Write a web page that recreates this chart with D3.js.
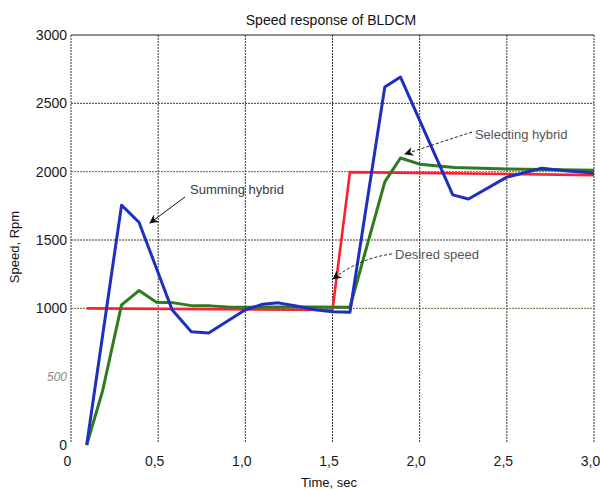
<!DOCTYPE html>
<html>
<head>
<meta charset="utf-8">
<script src="https://cdn.jsdelivr.net/npm/d3@7"></script>
<style>
  body { margin: 0; background: #fff; }
  svg { font-family: Arial, "Liberation Sans", sans-serif; }
</style>
</head>
<body>
<svg id="chart" width="600" height="490"></svg>
<script>
// values: time in sec, speed in rpm
const summingTime = [0.09, 0.29, 0.39, 0.58, 0.69, 0.79, 1.0, 1.1, 1.19, 1.3, 1.4, 1.5, 1.6, 1.8, 1.89, 2.19, 2.28, 2.5, 2.7, 2.85, 3.0]
const summingSpeed = [0, 1755, 1630, 990, 828, 820, 990, 1030, 1040, 1015, 990, 975, 972, 2620, 2692, 1830, 1800, 1960, 2025, 2005, 1990]

const selectingTime = [0.09, 0.18, 0.29, 0.39, 0.49, 0.59, 0.7, 0.8, 0.9, 1.0, 1.2, 1.4, 1.6, 1.8, 1.89, 2.0, 2.2, 2.5, 3.0]
const selectingSpeed = [0, 390, 1025, 1130, 1045, 1040, 1018, 1018, 1010, 1008, 1010, 1010, 1008, 1925, 2100, 2055, 2030, 2020, 2010]

const desiredTime = [0.09, 1.5, 1.6, 3.0]
const desiredSpeed = [1000, 988, 1997, 1975]

const xTicks = [0, 0.5, 1, 1.5, 2, 2.5, 3]
const yTicks = [0, 500, 1000, 1500, 2000, 2500, 3000]
const yGrid = [1000, 1500, 2000, 2500]

const svg = d3.select('#chart')
const W = 600, H = 490
const margin = { top: 35, right: 6, bottom: 45, left: 71 }

const x = d3.scaleLinear().domain([0, 3]).range([margin.left, W - margin.right])
const y = d3.scaleLinear().domain([0, 3000]).range([H - margin.bottom, margin.top])

// arrow heads
const defs = svg.append('defs')
defs.append('marker')
    .attr('id', 'head')
    .attr('viewBox', '0 0 10 10')
    .attr('refX', 9).attr('refY', 5)
    .attr('markerWidth', 11).attr('markerHeight', 9)
    .attr('markerUnits', 'userSpaceOnUse')
    .attr('orient', 'auto')
    .append('path')
    .attr('d', 'M0,0 L10,5 L0,10 L3,5 Z')
    .attr('fill', '#111')

// grid
const grid = svg.append('g')
grid.selectAll('.vgrid')
    .data(xTicks)
    .join('line')
    .attr('class', 'vgrid')
    .attr('x1', d => x(d)).attr('x2', d => x(d))
    .attr('y1', y(3000)).attr('y2', y(0) - 3)
    .attr('stroke', '#333')
    .attr('stroke-width', 1)
    .attr('stroke-dasharray', '2,1')

grid.selectAll('.hgrid')
    .data(yGrid)
    .join('line')
    .attr('class', 'hgrid')
    .attr('x1', x(0)).attr('x2', x(3))
    .attr('y1', d => y(d)).attr('y2', d => y(d))
    .attr('stroke', d => d === 2500 || d === 1500 ? '#3a3a3a' : '#6a6a3a')
    .attr('stroke-width', 1)
    .attr('stroke-dasharray', '2,1')

// top border is solid
grid.append('line')
    .attr('x1', x(0)).attr('x2', x(3))
    .attr('y1', y(3000)).attr('y2', y(3000))
    .attr('stroke', '#222')
    .attr('stroke-width', 1.2)

// axes (labels only)
const fmt = d => d === 0 ? '0' : d3.format('.1f')(d).replace('.', ',')
const xAxis = svg.append('g')
    .attr('transform', `translate(0,${y(0)})`)
    .call(d3.axisBottom(x).tickValues(xTicks).tickFormat(fmt).tickSize(0).tickPadding(11))
xAxis.select('.domain').remove()
xAxis.selectAll('text')
    .attr('dx', -4)
    .attr('font-size', 14)
    .attr('font-family', 'Arial, "Liberation Sans", sans-serif')
    .attr('fill', '#1a1a1a')

const yAxis = svg.append('g')
    .attr('transform', `translate(${x(0)},0)`)
    .call(d3.axisLeft(y).tickValues(yTicks).tickFormat(d3.format('d')).tickSize(0).tickPadding(4))
yAxis.select('.domain').remove()
yAxis.selectAll('text')
    .attr('font-family', 'Arial, "Liberation Sans", sans-serif')
    .attr('fill', d => d === 500 ? '#8a8a8a' : '#1a1a1a')
    .attr('font-style', d => d === 500 ? 'italic' : null)
    .attr('font-size', d => d === 500 ? 12 : 14)

// series
const line = d3.line().x(d => x(d[0])).y(d => y(d[1]))
const series = [
    { t: desiredTime, v: desiredSpeed, color: '#ff1f2f', w: 2.6 },
    { t: selectingTime, v: selectingSpeed, color: '#2e7a1e', w: 3 },
    { t: summingTime, v: summingSpeed, color: '#1f2fbf', w: 3 }
]
svg.append('g')
    .selectAll('path')
    .data(series)
    .join('path')
    .attr('fill', 'none')
    .attr('stroke', d => d.color)
    .attr('stroke-width', d => d.w)
    .attr('stroke-linejoin', 'round')
    .attr('d', d => line(d.t.map((t, i) => [t, d.v[i]])))

// annotations
const note = svg.append('g')
    .attr('font-size', 13)
    .attr('fill', '#3a3a3a')

note.append('text').attr('x', x(0.683)).attr('y', y(1837)).text('Summing hybrid')
note.append('line')
    .attr('x1', x(0.654)).attr('y1', y(1815))
    .attr('x2', x(0.453)).attr('y2', y(1624))
    .attr('stroke', '#111').attr('stroke-width', 1)
    .attr('marker-end', 'url(#head)')

note.append('text').attr('x', x(2.317)).attr('y', y(2239)).attr('fill', '#555').text('Selecting hybrid')
note.append('line')
    .attr('x1', x(2.30)).attr('y1', y(2290))
    .attr('x2', x(1.916)).attr('y2', y(2129))
    .attr('stroke', '#222').attr('stroke-width', 1)
    .attr('stroke-dasharray', '3,2')
    .attr('marker-end', 'url(#head)')

note.append('text').attr('x', x(1.859)).attr('y', y(1361)).attr('fill', '#555').text('Desired speed')
note.append('path')
    .attr('d', `M${x(1.841)},${y(1398)} Q${x(1.658)},${y(1368)} ${x(1.503)},${y(1215)}`)
    .attr('fill', 'none')
    .attr('stroke', '#222').attr('stroke-width', 1)
    .attr('stroke-dasharray', '3,2')
    .attr('marker-end', 'url(#head)')

// titles
svg.append('text')
    .attr('x', 331).attr('y', 25)
    .attr('text-anchor', 'middle')
    .attr('font-size', 14)
    .attr('fill', '#111')
    .text('Speed response of BLDCM')

svg.append('text')
    .attr('transform', 'translate(19,247) rotate(-90)')
    .attr('text-anchor', 'middle')
    .attr('font-size', 13)
    .attr('fill', '#111')
    .text('Speed, Rpm')

svg.append('text')
    .attr('x', 329).attr('y', 487)
    .attr('text-anchor', 'middle')
    .attr('font-size', 13)
    .attr('fill', '#111')
    .text('Time, sec')
</script>
</body>
</html>
